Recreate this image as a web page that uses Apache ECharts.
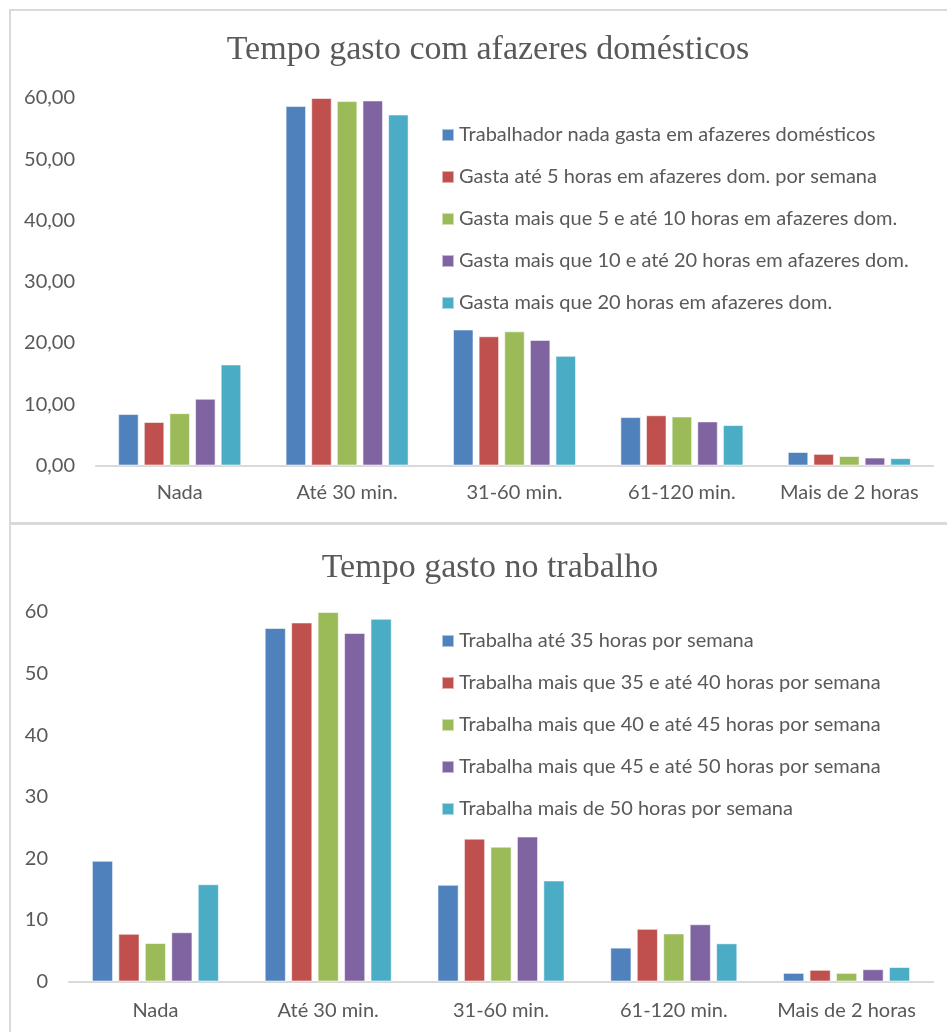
<!DOCTYPE html>
<html>
<head>
<meta charset="utf-8">
<script src="https://cdn.jsdelivr.net/npm/echarts@6/dist/echarts.min.js"></script>
<style>
  html, body { margin: 0; padding: 0; background: #ffffff; overflow: hidden; }
  #chart { width: 947px; height: 1032px; }
</style>
</head>
<body>
<div id="chart"></div>
<script>
// Categories shared by both panels
const categories = ['Nada', 'Até 30 min.', '31-60 min.', '61-120 min.', 'Mais de 2 horas'];

// Panel 1: time spent, by weekly household-chores load
const choresNames = [
  'Trabalhador nada gasta em afazeres domésticos',
  'Gasta até 5 horas em afazeres dom. por semana',
  'Gasta mais que 5 e até 10 horas em afazeres dom.',
  'Gasta mais que 10 e até 20 horas em afazeres dom.',
  'Gasta mais que 20 horas em afazeres dom.'
];
const choresNone   = [8.4, 58.7, 22.2, 7.9, 2.2];
const choresUpTo5  = [7.1, 60.0, 21.1, 8.2, 1.9];
const chores5to10  = [8.55, 59.5, 21.9, 8.0, 1.55];
const chores10to20 = [10.9, 59.6, 20.5, 7.2, 1.3];
const choresOver20 = [16.5, 57.3, 17.9, 6.6, 1.2];

// Panel 2: time spent, by weekly working hours
const workNames = [
  'Trabalha até 35 horas por semana',
  'Trabalha mais que 35 e até 40 horas por semana',
  'Trabalha mais que 40 e até 45 horas por semana',
  'Trabalha mais que 45 e até 50 horas por semana',
  'Trabalha mais de 50 horas por semana'
];
const workUpTo35 = [19.6, 57.4, 15.7, 5.5, 1.4];
const work35to40 = [7.75, 58.3, 23.2, 8.55, 1.9];
const work40to45 = [6.25, 60.0, 21.9, 7.8, 1.4];
const work45to50 = [8.0, 56.6, 23.55, 9.3, 2.0];
const workOver50 = [15.8, 58.9, 16.4, 6.2, 2.35];

const palette = ['#4f81bd', '#c0504d', '#9bbb59', '#8064a2', '#4bacc6'];
const textColor = '#595959';
const lineColor = '#d9d9d9';
const sansFont = 'Lato, "Open Sans", sans-serif';
const serifFont = '"Liberation Serif", "DejaVu Serif", serif';
const labelSize = 20;

const choresData = [choresNone, choresUpTo5, chores5to10, chores10to20, choresOver20];
const workData = [workUpTo35, work35to40, work40to45, work45to50, workOver50];

function barSeries(names, data, axisIndex) {
  return names.map((name, i) => ({
    name: name,
    type: 'bar',
    xAxisIndex: axisIndex,
    yAxisIndex: axisIndex,
    data: data[i],
    barGap: '25%',
    barCategoryGap: '26.5%',
    itemStyle: { color: palette[i], borderColor: 'rgba(255,255,255,0.55)', borderWidth: 1 },
    emphasis: { disabled: true }
  }));
}

function categoryAxis(gridIndex, margin) {
  return {
    type: 'category',
    gridIndex: gridIndex,
    data: categories,
    axisLine: { show: true, lineStyle: { color: lineColor, width: 2 } },
    axisTick: { show: false },
    axisLabel: { color: textColor, fontFamily: sansFont, fontSize: labelSize, margin: margin, interval: 0 }
  };
}

function valueAxis(gridIndex, formatter) {
  return {
    type: 'value',
    gridIndex: gridIndex,
    min: 0,
    max: 60,
    interval: 10,
    axisLine: { show: false },
    axisTick: { show: false },
    splitLine: { show: false },
    axisLabel: { color: textColor, fontFamily: sansFont, fontSize: labelSize, margin: 21, formatter: formatter }
  };
}

function legendFor(names, top) {
  return {
    orient: 'vertical',
    left: 441,
    top: top,
    padding: 0,
    itemWidth: 12,
    itemHeight: 12,
    itemGap: 22,
    icon: 'rect',
    selectedMode: false,
    data: names,
    textStyle: { color: textColor, fontFamily: sansFont, fontSize: labelSize, lineHeight: 20 }
  };
}

const chart = echarts.init(document.getElementById('chart'), null, { renderer: 'canvas' });

chart.setOption({
  animation: false,
  backgroundColor: '#ffffff',
  title: [
    {
      text: 'Tempo gasto com afazeres domésticos',
      left: 483, top: 28, textAlign: 'center',
      textStyle: { color: textColor, fontFamily: serifFont, fontSize: 34, fontWeight: 'normal' }
    },
    {
      text: 'Tempo gasto no trabalho',
      left: 485, top: 546, textAlign: 'center',
      textStyle: { color: textColor, fontFamily: serifFont, fontSize: 34, fontWeight: 'normal' }
    }
  ],
  legend: [legendFor(choresNames, 125), legendFor(workNames, 631)],
  grid: [
    { left: 96, right: 14, top: 98, height: 367.5 },
    { left: 69, right: 14, top: 612, height: 369.5 }
  ],
  xAxis: [categoryAxis(0, 17), categoryAxis(1, 19)],
  yAxis: [
    valueAxis(0, v => v.toFixed(2).replace('.', ',')),
    valueAxis(1, v => String(v))
  ],
  series: barSeries(choresNames, choresData, 0).concat(barSeries(workNames, workData, 1)),
  graphic: [
    // panel frames
    { type: 'line', silent: true, shape: { x1: 9, y1: 10, x2: 947, y2: 10 }, style: { stroke: lineColor, lineWidth: 2 } },
    { type: 'line', silent: true, shape: { x1: 10, y1: 9, x2: 10, y2: 1032 }, style: { stroke: lineColor, lineWidth: 2 } },
    { type: 'line', silent: true, shape: { x1: 9, y1: 523.5, x2: 947, y2: 523.5 }, style: { stroke: lineColor, lineWidth: 3 } }
  ]
});
</script>
</body>
</html>
